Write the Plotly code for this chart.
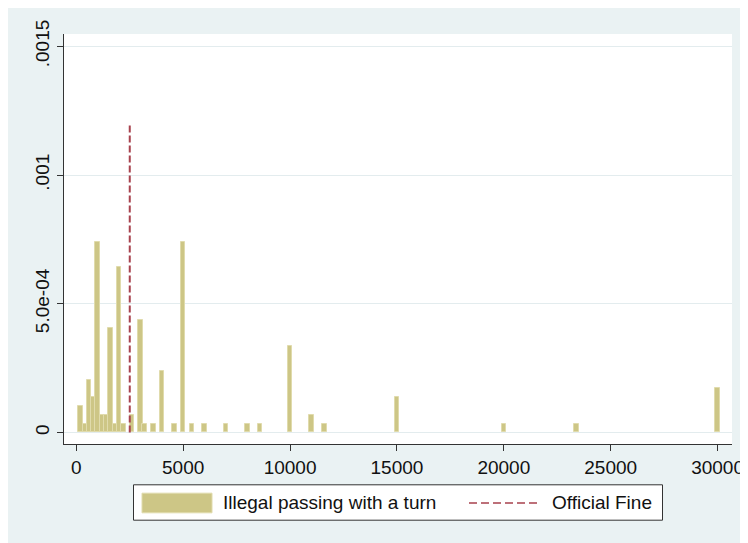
import plotly.graph_objects as go

# ---- data ----
fine_values = [200, 400, 600, 800, 1000, 1200, 1400, 1600, 1800, 2000, 2200, 2600,
               3000, 3200, 3600, 4000, 4600, 5000, 5400, 6000, 7000, 8000, 8600,
               10000, 11000, 11600, 15000, 20000, 23400, 30000]
density = [1.03e-4, 0.34e-4, 2.03e-4, 1.36e-4, 7.40e-4, 0.69e-4, 0.69e-4, 4.05e-4,
           0.34e-4, 6.41e-4, 0.34e-4, 0.69e-4,
           4.38e-4, 0.34e-4, 0.34e-4, 2.37e-4, 0.34e-4, 7.40e-4, 0.34e-4, 0.34e-4,
           0.34e-4, 0.34e-4, 0.34e-4,
           3.36e-4, 0.69e-4, 0.34e-4, 1.36e-4, 0.34e-4, 0.34e-4, 1.71e-4]
bin_width = 210
official_fine = 2500
official_line_top = 0.0012

x_ticks = [0, 5000, 10000, 15000, 20000, 25000, 30000]
x_tick_labels = ["0", "5000", "10000", "15000", "20000", "25000", "30000"]
y_ticks = [0, 0.0005, 0.001, 0.0015]
y_tick_labels = ["0", "5.0e-04", ".001", ".0015"]

series_name = "Illegal passing with a turn"
line_name = "Official Fine"

# ---- style ----
W, H = 748, 543
OFF = 8  # page body margin
ML, MR, MT, MB = 56, 24, 19, 107
PW, PH = W - ML - MR, H - MT - MB
BAR_FILL = "rgb(205,198,134)"
BAR_EDGE = "rgb(224,219,172)"
LINE_COL = "rgb(168,66,78)"
BG = "#EAF2F3"
GRID = "#E3ECEE"
FONT = "Liberation Sans, Arial, sans-serif"


def px_x(p):
    return (p - OFF - ML) / PW


def px_y(p):
    return (H - MB - (p - OFF)) / PH


fig = go.Figure()
fig.add_trace(go.Bar(
    x=fine_values, y=density, width=bin_width, name=series_name,
    marker=dict(color=BAR_FILL, line=dict(color=BAR_EDGE, width=1)),
    showlegend=False,
))
fig.add_trace(go.Scatter(
    x=[official_fine, official_fine], y=[0, official_line_top], mode="lines",
    name=line_name, line=dict(color=LINE_COL, width=2, dash="7px,3px"),
    showlegend=False,
))

shapes = [
    # legend box
    dict(type="rect", xref="paper", yref="paper",
         x0=px_x(133.5), x1=px_x(662.5), y0=px_y(521.5), y1=px_y(485.5),
         fillcolor="white", line=dict(color="#333", width=1)),
    # legend swatch
    dict(type="rect", xref="paper", yref="paper",
         x0=px_x(142), x1=px_x(212), y0=px_y(514), y1=px_y(494),
         fillcolor=BAR_FILL, line=dict(color=BAR_EDGE, width=1)),
    # legend line sample
    dict(type="line", xref="paper", yref="paper",
         x0=px_x(469), x1=px_x(539), y0=px_y(504), y1=px_y(504),
         line=dict(color=LINE_COL, width=1.6, dash="8px,4px")),
]

annotations = [
    dict(text=series_name, xref="paper", yref="paper", x=px_x(221), y=px_y(504),
         xanchor="left", yanchor="middle", showarrow=False,
         font=dict(size=19, color="#111", family=FONT)),
    dict(text=line_name, xref="paper", yref="paper", x=px_x(549.5), y=px_y(504),
         xanchor="left", yanchor="middle", showarrow=False,
         font=dict(size=19, color="#111", family=FONT)),
]

fig.update_layout(
    width=W, height=H,
    margin=dict(l=ML, r=MR, t=MT, b=MB, pad=0),
    paper_bgcolor=BG, plot_bgcolor="white",
    font=dict(family=FONT, size=19, color="#111"),
    showlegend=False, bargap=0,
    shapes=shapes, annotations=annotations,
)
fig.update_xaxes(
    range=[-576, 30674], tickvals=x_ticks, ticktext=x_tick_labels,
    showgrid=False, zeroline=False, showline=True, linecolor="#333", linewidth=1,
    ticks="outside", ticklen=6, tickcolor="#333", tickwidth=1,
    tickfont=dict(size=19, family=FONT, color="#111"),
)
fig.update_yaxes(
    range=[-0.0000447, 0.001548], tickvals=y_ticks, ticktext=y_tick_labels,
    showgrid=True, gridcolor=GRID, gridwidth=1, zeroline=False,
    showline=True, linecolor="#333", linewidth=1,
    ticks="outside", ticklen=6, tickcolor="#333", tickwidth=1, tickangle=-90,
    tickfont=dict(size=19, family=FONT, color="#111"),
)

fig.write_html("out.html")
